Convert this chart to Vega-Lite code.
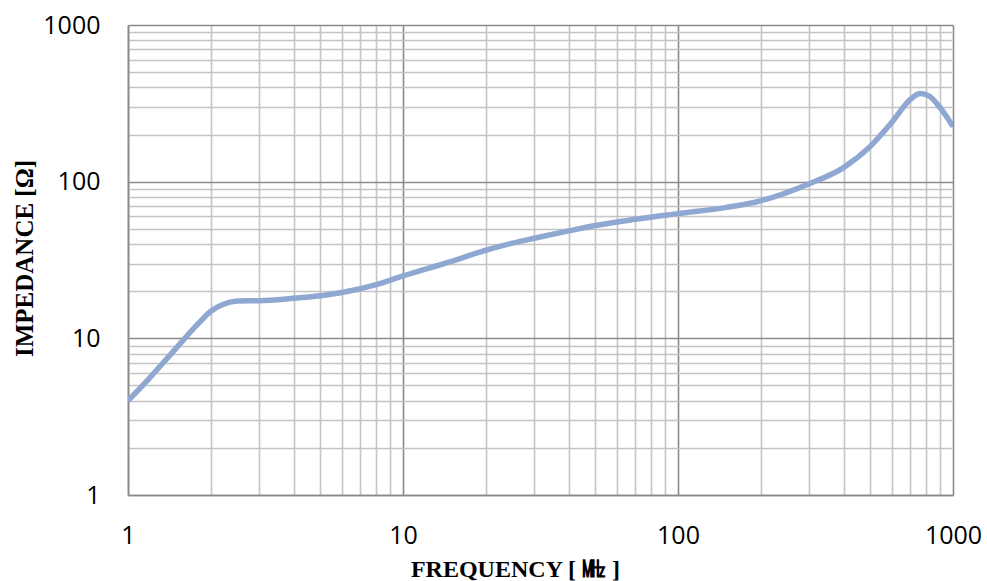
{
  "$schema": "https://vega.github.io/schema/vega-lite/v6.json",
  "width": 825,
  "height": 470,
  "autosize": "none",
  "padding": {"left": 128, "top": 25, "right": 34, "bottom": 86},
  "background": "white",
  "config": {"view": {"stroke": null}},
  "data": {
    "values": [
      {"f": 1, "z": 4.0},
      {"f": 1.2, "z": 5.6},
      {"f": 1.5, "z": 8.7},
      {"f": 1.8, "z": 12.4},
      {"f": 2, "z": 14.9},
      {"f": 2.2, "z": 16.4},
      {"f": 2.5, "z": 17.3},
      {"f": 2.8, "z": 17.4},
      {"f": 3, "z": 17.4},
      {"f": 4, "z": 18.0},
      {"f": 5, "z": 18.7},
      {"f": 6, "z": 19.6},
      {"f": 8, "z": 22.0},
      {"f": 10, "z": 25.0},
      {"f": 15, "z": 31.0},
      {"f": 20, "z": 36.5},
      {"f": 25, "z": 40.5},
      {"f": 30, "z": 43.5},
      {"f": 40, "z": 48.5},
      {"f": 50, "z": 52.5},
      {"f": 70, "z": 57.5},
      {"f": 100, "z": 62.5},
      {"f": 150, "z": 68.5},
      {"f": 200, "z": 75.5},
      {"f": 300, "z": 97},
      {"f": 400, "z": 123},
      {"f": 500, "z": 168},
      {"f": 600, "z": 240},
      {"f": 700, "z": 335},
      {"f": 760, "z": 365},
      {"f": 820, "z": 352},
      {"f": 900, "z": 295},
      {"f": 1000, "z": 225}
    ]
  },
  "mark": {"type": "line", "interpolate": "monotone", "color": "#8EA8D1", "strokeWidth": 5.5, "clip": true},
  "encoding": {
    "x": {
      "field": "f",
      "type": "quantitative",
      "scale": {"type": "log", "domain": [1, 1000], "nice": false},
      "axis": {
        "title": "FREQUENCY [ ㎒ ]",
        "titleFont": "Liberation Serif",
        "titleFontSize": 24,
        "titleFontWeight": "bold",
        "titleColor": "#000000",
        "titleX": 387,
        "titleY": 81,
        "titleAlign": "center",
        "titleBaseline": "alphabetic",
        "values": [1,2,3,4,5,6,7,8,9,10,20,30,40,50,60,70,80,90,100,200,300,400,500,600,700,800,900,1000],
        "format": "d",
        "labelExpr": "indexof(['1','10','100','1000'], datum.label) >= 0 ? datum.label : ''",
        "labelFont": "Open Sans",
        "labelFontSize": 25,
        "labelColor": "#000000",
        "labelPadding": 28,
        "labelOverlap": false,
        "labelFlush": false,
        "ticks": false,
        "grid": true,
        "gridColor": {"condition": {"test": "indexof([1,10,100,1000], datum.value) >= 0", "value": "#8a8a8a"}, "value": "#c4c4c4"},
        "gridWidth": 1.6,
        "domainColor": "#8a8a8a",
        "domainWidth": 1.6
      }
    },
    "y": {
      "field": "z",
      "type": "quantitative",
      "scale": {"type": "log", "domain": [1, 1000], "nice": false},
      "axis": {
        "title": "IMPEDANCE [Ω]",
        "titleFont": "Liberation Serif",
        "titleFontSize": 25,
        "titleFontWeight": "bold",
        "titleColor": "#000000",
        "titleX": -96,
        "titleY": 233,
        "titleAngle": -90,
        "titleAlign": "center",
        "titleBaseline": "alphabetic",
        "values": [1,2,3,4,5,6,7,8,9,10,20,30,40,50,60,70,80,90,100,200,300,400,500,600,700,800,900,1000],
        "format": "d",
        "labelExpr": "indexof(['1','10','100','1000'], datum.label) >= 0 ? datum.label : ''",
        "labelFont": "Open Sans",
        "labelFontSize": 25,
        "labelColor": "#000000",
        "labelPadding": 28,
        "labelOverlap": false,
        "labelFlush": false,
        "ticks": false,
        "grid": true,
        "gridColor": {"condition": {"test": "indexof([1,10,100,1000], datum.value) >= 0", "value": "#8a8a8a"}, "value": "#c4c4c4"},
        "gridWidth": 1.6,
        "domainColor": "#8a8a8a",
        "domainWidth": 1.6
      }
    }
  }
}
